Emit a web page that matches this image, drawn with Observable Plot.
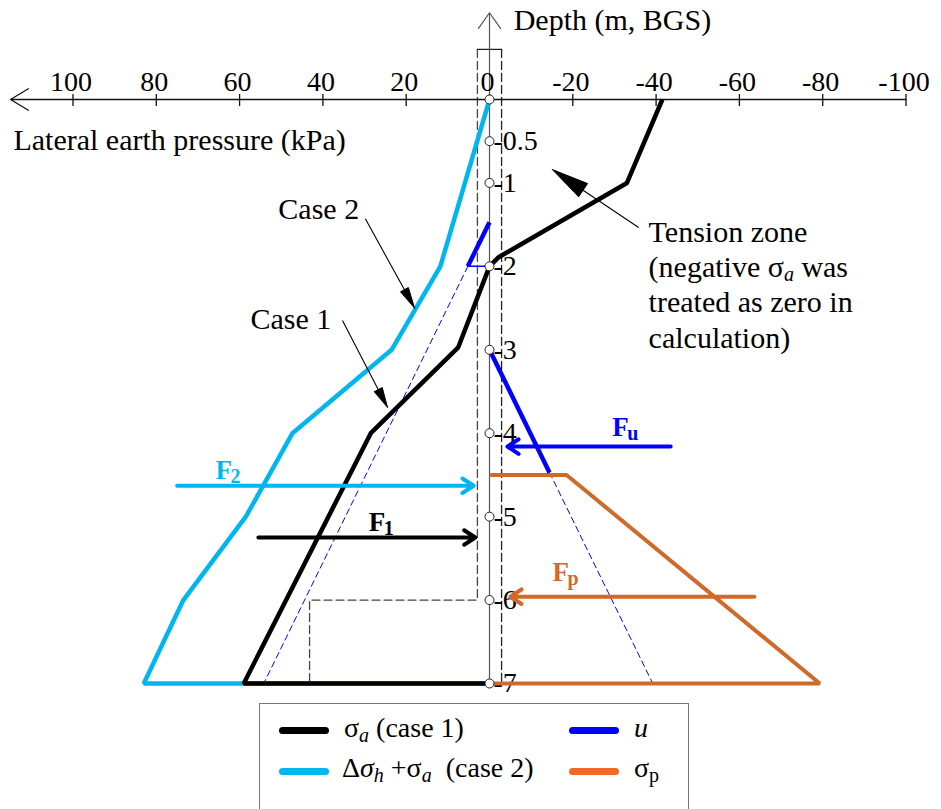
<!DOCTYPE html>
<html>
<head>
<meta charset="utf-8">
<script src="https://cdn.jsdelivr.net/npm/d3@7"></script>
<script src="https://cdn.jsdelivr.net/npm/@observablehq/plot@0.6"></script>
<style>
  body { margin: 0; background: #fff; font-family: "Liberation Serif", "Times New Roman", serif; }
  #chart svg { overflow: visible; display: block; }
  #legend { position: relative; margin-left: 259px; width: 430px; height: 106px; border: 1.5px solid #777; border-bottom: none; box-sizing: border-box; font-size: 28px; line-height: 28px; }
  #legend .sw { position: absolute; width: 50px; height: 7px; border-radius: 4px; }
  #legend .lb { position: absolute; white-space: pre; }
  #legend sub { font-size: 20px; vertical-align: -5px; line-height: 0; }
</style>
</head>
<body>
<div id="chart"></div>
<div id="legend"></div>
<script>
// ---------- data (kPa, depth m below ground surface) ----------
const xTicks = [100, 80, 60, 40, 20, 0, -20, -40, -60, -80, -100];
const xTickLabels = ["100", "80", "60", "40", "20", "0", "-20", "-40", "-60", "-80", "-100"];
const depthMarks = [0, 0.5, 1, 2, 3, 4, 5, 6, 7];
const depthLabelDepths = [0.5, 1, 2, 3, 4, 5, 6, 7];
const depthLabels = ["-0.5", "-1", "-2", "-3", "-4", "-5", "-6", "-7"];

// sigma_a case 1
const case1Pressure = [-41.5, -33, -2.2, 0, 7.5, 28.5, 59, 0];
const case1Depth    = [0, 1.0, 1.89, 2.0, 2.97, 4.0, 7.0, 7.0];
// delta sigma_h + sigma_a case 2
const case2Pressure = [0, 11.8, 23.5, 47.3, 58.5, 73.5, 83, 0];
const case2Depth    = [0, 2.0, 3.0, 4.0, 5.0, 6.0, 7.0, 7.0];
// pore water pressure u
const uActivePressure = [0, 5.2];
const uActiveDepth    = [1.47, 2.0];
const uActiveLevelPressure = [5.2, 0];
const uActiveLevelDepth    = [2.0, 2.0];
const uActiveExtPressure = [5.2, 54.2];
const uActiveExtDepth    = [2.0, 7.0];
const uPassivePressure = [0, -14.4];
const uPassiveDepth    = [3.0, 4.47];
const uPassiveExtPressure = [-14.4, -39.2];
const uPassiveExtDepth    = [4.47, 7.0];
// sigma_p
const passivePressure = [0, -18.5, -79.3, 0];
const passiveDepth    = [4.5, 4.5, 7.0, 7.0];
// wall outline (dashed)
const wallLeftPressure = [2.9, 2.9, 43.2, 43.2];
const wallLeftDepth    = [-0.6, 6.0, 6.0, 7.0];
const wallRightPressure = [-2.9, -2.9];
const wallRightDepth    = [-0.6, 7.0];
const wallTopPressure = [2.9, -2.9];
const wallTopDepth    = [-0.6, -0.6];
// resultant forces
const forceNames = ["F2", "F1", "Fu", "Fp"];
const forceSubs  = ["2", "1", "u", "p"];
const forceFrom  = [75, 55.5, -43.5, -63.6];
const forceTo    = [3.8, 3.4, -4.3, -5.0];
const forceDepth = [4.63, 5.25, 4.16, 5.96];
const forceLabelX     = [65.8, 29.0, -29.5, -15.1];
const forceLabelDepth = [4.55, 5.17, 4.03, 5.77];
// annotation arrows (from -> to)
const noteNames = ["tension", "case2", "case1"];
const noteFromX = [-35.8, 29.8, 35.3];
const noteFromY = [1.534, 1.43, 2.65];
const noteToX   = [-15.1, 18.0, 24.5];
const noteToY   = [0.84, 2.5, 3.69];
// texts
const caseTexts = ["Case 2", "Case 1"];
const caseTextX = [50.7, 57.4];
const caseTextY = [1.43, 2.745];
const tensionText = "Tension zone\n(negative σa was\ntreated as zero in\ncalculation)";

// ---------- styles ----------
const C = { black: "#000", cyan: "#00b6f0", blue: "#0000ff", orange: "#cf6a2c", legendOrange: "#f06a26" };
const forceColors = [C.cyan, C.black, C.blue, C.orange];
const headLen = [37, 21, 20];
const headHalf = [8, 4.5, 4.5];

// ---------- helpers ----------
const zip = (xs, ys) => xs.map((x, i) => ({x, y: ys[i]}));
const X_DOMAIN = [100, -100], X_RANGE = [72.5, 905.5];
const Y_DOMAIN = [0, 7], Y_RANGE = [99, 683];
const sx = d3.scaleLinear(X_DOMAIN, X_RANGE);
const sy = d3.scaleLinear(Y_DOMAIN, Y_RANGE);

const forces = forceNames.map((n, i) => ({n, sub: forceSubs[i], x1: forceFrom[i], x2: forceTo[i], y: forceDepth[i], lx: forceLabelX[i], ly: forceLabelDepth[i], c: forceColors[i]}));
const notes = noteNames.map((id, i) => ({id, x1: noteFromX[i], y1: noteFromY[i], x2: noteToX[i], y2: noteToY[i], len: headLen[i], half: headHalf[i]}));
const heads = notes.flatMap(a => {
  const x1 = sx(a.x1), y1 = sy(a.y1), x2 = sx(a.x2), y2 = sy(a.y2);
  const L = Math.hypot(x2 - x1, y2 - y1), ux = (x2 - x1) / L, uy = (y2 - y1) / L;
  const bx = x2 - ux * a.len, by = y2 - uy * a.len, px = -uy * a.half, py = ux * a.half;
  return [[x2, y2], [bx + px, by + py], [bx - px, by - py], [x2, y2]]
    .map(([x, y]) => ({id: a.id, x: sx.invert(x), y: sy.invert(y)}));
});
const shafts = notes.map(a => {
  const x1 = sx(a.x1), y1 = sy(a.y1), x2 = sx(a.x2), y2 = sy(a.y2);
  const L = Math.hypot(x2 - x1, y2 - y1);
  const t = (L - a.len * 0.6) / L;
  return {x1: a.x1, y1: a.y1, x2: sx.invert(x1 + (x2 - x1) * t), y2: sy.invert(y1 + (y2 - y1) * t)};
});

const lineOpts = (c, w) => ({x: "x", y: "y", stroke: c, strokeWidth: w, strokeLinejoin: "miter", strokeLinecap: "butt"});

const plot = Plot.plot({
  width: 941, height: 703,
  marginTop: 99, marginBottom: 20, marginLeft: 72.5, marginRight: 35.5,
  x: {domain: X_DOMAIN, range: X_RANGE, axis: null},
  y: {domain: Y_DOMAIN, range: Y_RANGE, axis: null},
  style: {fontFamily: "'Liberation Serif', 'Times New Roman', serif", background: "white", color: "black", overflow: "visible"},
  marks: [
    // wall outline
    Plot.line(zip(wallLeftPressure, wallLeftDepth), {x: "x", y: "y", stroke: "#444", strokeWidth: 1.3, strokeDasharray: "8,4"}),
    Plot.line(zip(wallRightPressure, wallRightDepth), {x: "x", y: "y", stroke: "#222", strokeWidth: 1.3, strokeDasharray: "8,4"}),
    Plot.line(zip(wallTopPressure, wallTopDepth), {x: "x", y: "y", stroke: "#222", strokeWidth: 1.3}),
    // axes
    Plot.arrow([{x1: -100, y1: 0, x2: 115, y2: 0}], {x1: "x1", y1: "y1", x2: "x2", y2: "y2", stroke: "#111", strokeWidth: 1.3, headLength: 24, headAngle: 62}),
    Plot.arrow([{x1: 0, y1: 7, x2: 0, y2: -1.04}], {x1: "x1", y1: "y1", x2: "x2", y2: "y2", stroke: "#555", strokeWidth: 1.2, headLength: 24, headAngle: 70}),
    Plot.ruleX(xTicks, {x: d => d, y1: 0, y2: 0, insetTop: -5, insetBottom: -7, stroke: "#111", strokeWidth: 1.3}),
    Plot.text(xTicks, {x: d => d, y: 0, dy: -9, dx: -2, text: (d, i) => xTickLabels[i], lineAnchor: "bottom", fontSize: 28}),
    Plot.text(depthLabelDepths, {x: 0, y: d => d, dx: 4, text: (d, i) => depthLabels[i], textAnchor: "start", fontSize: 28}),
    Plot.text(["Lateral earth pressure (kPa)"], {x: 114.3, y: 0.61, text: d => d, textAnchor: "start", lineAnchor: "bottom", fontSize: 30}),
    Plot.text(["Depth (m, BGS)"], {x: -5.8, y: -0.83, text: d => d, textAnchor: "start", lineAnchor: "bottom", fontSize: 30}),
    // dashed water-pressure extensions
    Plot.line(zip(uActiveExtPressure, uActiveExtDepth), {x: "x", y: "y", stroke: C.blue, strokeWidth: 1, strokeDasharray: "6,4"}),
    Plot.line(zip(uPassiveExtPressure, uPassiveExtDepth), {x: "x", y: "y", stroke: C.blue, strokeWidth: 1, strokeDasharray: "6,4"}),
    Plot.line(zip(uActiveLevelPressure, uActiveLevelDepth), {x: "x", y: "y", stroke: C.blue, strokeWidth: 1.5}),
    // main series
    Plot.line(zip(case2Pressure, case2Depth), lineOpts(C.cyan, 4.5)),
    Plot.line(zip(case1Pressure, case1Depth), lineOpts(C.black, 4.5)),
    Plot.line(zip(passivePressure, passiveDepth), lineOpts(C.orange, 4)),
    Plot.line(zip(uActivePressure, uActiveDepth), lineOpts(C.blue, 4.5)),
    Plot.line(zip(uPassivePressure, uPassiveDepth), lineOpts(C.blue, 4.5)),
    // depth circles
    Plot.dot(depthMarks, {x: 0, y: d => d, r: 4.5, stroke: "#222", strokeWidth: 1, fill: "white"}),
    // resultant forces
    Plot.arrow(forces, {x1: "x1", x2: "x2", y1: "y", y2: "y", stroke: "c", strokeWidth: 4, headLength: 5, headAngle: 66, strokeLinecap: "round", strokeLinejoin: "round"}),
    Plot.text(forces, {x: "lx", y: "ly", text: () => "F", fill: "c", fontWeight: "bold", fontSize: 27, textAnchor: "start", lineAnchor: "bottom"}),
    Plot.text(forces, {x: "lx", y: "ly", text: "sub", fill: "c", fontWeight: "bold", fontSize: 20, dx: 15, dy: 4, textAnchor: "start", lineAnchor: "bottom"}),
    // annotations
    Plot.link(shafts, {x1: "x1", y1: "y1", x2: "x2", y2: "y2", stroke: "black", strokeWidth: 1.1}),
    Plot.line(heads, {x: "x", y: "y", z: "id", fill: "black", stroke: "black", strokeWidth: 1, strokeLinejoin: "miter"}),
    Plot.text(caseTexts, {x: (d, i) => caseTextX[i], y: (d, i) => caseTextY[i], text: d => d, textAnchor: "start", lineAnchor: "bottom", fontSize: 30}),
    Plot.text([tensionText], {x: -38.2, y: 2.205, text: d => d, textAnchor: "start", lineAnchor: "middle", lineHeight: 1.18, fontSize: 30})
  ]
});
document.getElementById("chart").appendChild(plot);

// subscript in the tension-zone note
d3.select(plot).selectAll("tspan").filter(function () { return this.textContent === "(negative σa was"; })
  .html('(negative σ<tspan font-style="italic" font-size="20" dy="4">a</tspan><tspan dy="-4"> was</tspan>');

// ---------- legend ----------
const legendItems = [
  {html: 'σ<sub><i>a</i></sub> (case 1)', color: C.black, col: 0, row: 0},
  {html: '<i>u</i>', color: C.blue, col: 1, row: 0},
  {html: 'Δ<i>σ<sub>h</sub></i> +σ<sub><i>a</i></sub>  (case 2)', color: C.cyan, col: 0, row: 1},
  {html: 'σ<sub>p</sub>', color: C.legendOrange, col: 1, row: 1}
];
const lg = d3.select("#legend");
const swLeft = [19, 309], txLeft = [84, 374], rowMid = [26, 67], rowTop = [10, 50];
legendItems.forEach(it => {
  lg.append("div").attr("class", "sw").style("left", swLeft[it.col] + "px").style("top", (rowMid[it.row] - 3.5) + "px").style("background", it.color);
  lg.append("div").attr("class", "lb").style("left", (txLeft[it.col] - (it.row === 1 && it.col === 0 ? 2 : 0)) + "px").style("top", rowTop[it.row] + "px").html(it.html);
});
</script>
</body>
</html>
